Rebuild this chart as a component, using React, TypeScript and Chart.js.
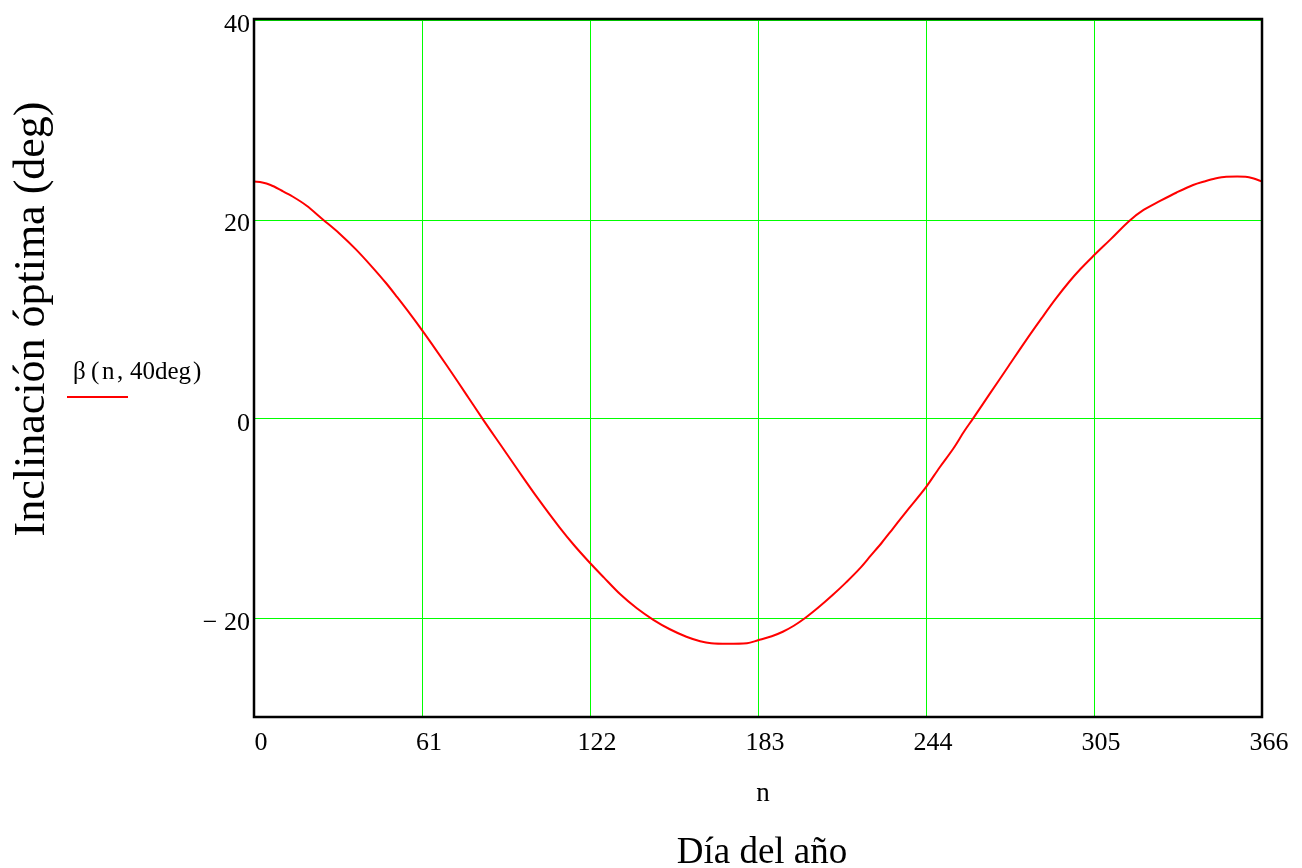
import React, { useEffect, useRef } from "react";
import { Chart, registerables } from "chart.js";

Chart.register(...registerables);

// Day of year (n) and optimum tilt β(n, 40deg) in degrees
const days = [
  0, 3, 6, 10, 14, 19, 25, 31, 37, 43, 48, 52, 57, 61, 66, 70, 74, 78, 83,
  90, 96, 103, 111, 116, 121, 127, 133, 139, 145, 151, 157, 162, 166, 172,
  179, 183, 188, 192, 196, 200, 205, 210, 215, 220, 224, 228, 232, 237, 244,
  249, 254, 258, 261, 267, 274, 280, 286, 291, 296, 300, 305, 311, 318, 323,
  329, 335, 341, 345, 349, 353, 357, 360, 363, 366,
];
const beta = [
  23.8, 23.7, 23.45, 22.9, 22.3, 21.4, 20.0, 18.6, 17.0, 15.2, 13.6, 12.2,
  10.4, 8.9, 6.95, 5.35, 3.72, 2.07, 0.0, -2.8, -5.2, -7.95, -10.9, -12.6,
  -14.15, -15.9, -17.6, -19.0, -20.15, -21.1, -21.85, -22.3, -22.5, -22.55,
  -22.5, -22.2, -21.8, -21.35, -20.75, -20.0, -18.9, -17.7, -16.4, -15.0,
  -13.7, -12.4, -11.0, -9.25, -6.85, -4.85, -2.95, -1.2, 0.0, 2.45, 5.3, 7.75,
  10.1, 12.0, 13.75, 15.0, 16.4, 18.0, 19.9, 20.95, 21.85, 22.7, 23.45, 23.8,
  24.1, 24.28, 24.3, 24.28, 24.1, 23.8,
];

const xTicks = [0, 61, 122, 183, 244, 305, 366];
const yTicks = [40, 20, 0, -20];
const xMin = 0;
const xMax = 366;
const yMin = -30;
const yMax = 40;

const legendParts = ["β", "(", "n", ",", "40deg", ")"];
const yTitle = "Inclinación óptima (deg)";
const xVarLabel = "n";
const xTitle = "Día del año";

const FONT = '"Liberation Serif", "Times New Roman", serif';
const GRID = "#00ff00";

const snap = (p: number) => Math.round(p / 2) * 2;

const decorPlugin = {
  id: "decor",
  beforeDatasetsDraw(chart: any) {
    const { ctx, chartArea, scales } = chart;
    const { left, right, top, bottom } = chartArea;
    ctx.save();
    ctx.fillStyle = GRID;
    xTicks.forEach((v) => {
      const px = snap(scales.x.getPixelForValue(v));
      ctx.fillRect(px, top, 1, bottom - top);
    });
    yTicks.forEach((v) => {
      const py = snap(scales.y.getPixelForValue(v));
      ctx.fillRect(left, py, right - left, 1);
    });
    ctx.restore();
  },
  afterDraw(chart: any) {
    const { ctx, chartArea } = chart;
    const { left, right, top, bottom } = chartArea;
    ctx.save();
    // plot frame
    ctx.strokeStyle = "#000";
    ctx.lineWidth = 2.5;
    ctx.strokeRect(left, top - 1, right - left, bottom - top);

    ctx.fillStyle = "#000";
    // y title (rotated)
    ctx.save();
    ctx.translate(44, 319);
    ctx.rotate(-Math.PI / 2);
    ctx.font = `44px ${FONT}`;
    ctx.textAlign = "center";
    ctx.textBaseline = "alphabetic";
    ctx.fillText(yTitle, 0, 0);
    ctx.restore();

    // legend
    ctx.font = `25px ${FONT}`;
    ctx.textAlign = "left";
    ctx.textBaseline = "alphabetic";
    const xs = [73, 91, 102, 117, 130, 193];
    legendParts.forEach((p, i) => ctx.fillText(p, xs[i], 379));
    ctx.strokeStyle = "#ff0000";
    ctx.lineWidth = 2;
    ctx.beginPath();
    ctx.moveTo(67, 397);
    ctx.lineTo(128, 397);
    ctx.stroke();

    // x labels
    ctx.textAlign = "center";
    ctx.font = `27px ${FONT}`;
    ctx.fillText(xVarLabel, 763, 801);
    ctx.font = `37px ${FONT}`;
    ctx.fillText(xTitle, 762, 863);
    ctx.restore();
  },
};

export default function App() {
  const canvasRef = useRef<HTMLCanvasElement | null>(null);

  useEffect(() => {
    if (!canvasRef.current) return;
    const chart = new Chart(canvasRef.current, {
      type: "line",
      data: {
        datasets: [
          {
            data: days.map((d, i) => ({ x: d, y: beta[i] })),
            borderColor: "#ff0000",
            borderWidth: 2,
            pointRadius: 0,
            cubicInterpolationMode: "monotone",
            fill: false,
          },
        ],
      },
      options: {
        animation: false,
        responsive: false,
        layout: { padding: { top: 20, right: 40, left: 0, bottom: 0 } },
        plugins: { legend: { display: false }, tooltip: { enabled: false } },
        scales: {
          x: {
            type: "linear",
            min: xMin,
            max: xMax,
            afterBuildTicks: (s: any) => {
              s.ticks = xTicks.map((v) => ({ value: v }));
            },
            afterFit: (s: any) => {
              s.height = 150;
            },
            grid: { display: false, drawTicks: false },
            border: { display: false },
            ticks: {
              font: { family: FONT, size: 26 },
              color: "#000",
              padding: 10,
              labelOffset: 7,
              maxRotation: 0,
              autoSkip: false,
            },
          },
          y: {
            type: "linear",
            min: yMin,
            max: yMax,
            afterBuildTicks: (s: any) => {
              s.ticks = yTicks.map((v) => ({ value: v }));
            },
            afterFit: (s: any) => {
              s.width = 254;
            },
            grid: { display: false, drawTicks: false },
            border: { display: false },
            ticks: {
              font: { family: FONT, size: 26 },
              color: "#000",
              padding: 4,
              labelOffset: 5,
              autoSkip: false,
              callback: (v: any) => (v < 0 ? "− " + Math.abs(v) : String(v)),
            },
          },
        },
      },
      plugins: [decorPlugin],
    });
    return () => chart.destroy();
  }, []);

  return (
    <div style={{ position: "fixed", left: 0, top: 0, width: 1302, height: 868, background: "#fff" }}>
      <canvas ref={canvasRef} width={1302} height={868} />
    </div>
  );
}
